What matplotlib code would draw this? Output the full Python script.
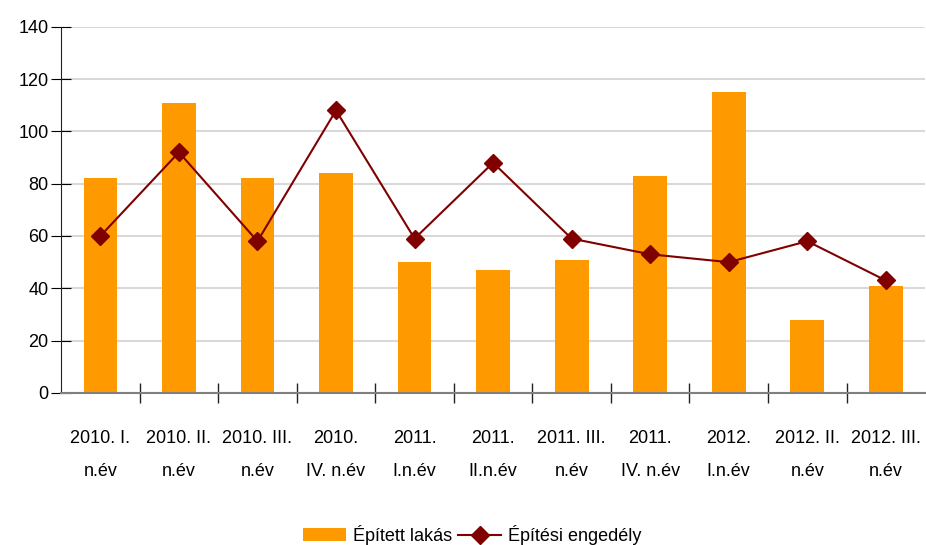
import numpy as np
import matplotlib.pyplot as plt
from matplotlib import font_manager

names = {f.name for f in font_manager.fontManager.ttflist}
if "Liberation Sans Narrow" in names:
    plt.rcParams['font.family'] = ['Liberation Sans Narrow', 'DejaVu Sans']
else:
    plt.rcParams['font.family'] = ['Liberation Sans', 'DejaVu Sans']

labels = ["2010. I.\nn.év", "2010. II.\nn.év", "2010. III.\nn.év", "2010.\nIV. n.év",
          "2011.\nI.n.év", "2011.\nII.n.év", "2011. III.\nn.év", "2011.\nIV. n.év",
          "2012.\nI.n.év", "2012. II.\nn.év", "2012. III.\nn.év"]
epitett = [82, 111, 82, 84, 50, 47, 51, 83, 115, 28, 41]
engedely = [60, 92, 58, 108, 59, 88, 59, 53, 50, 58, 43]

fig = plt.figure(figsize=(9.26, 5.45), dpi=100)
ax = fig.add_axes([0.066, 0.279, 0.933, 0.672])

x = np.arange(len(labels))
bars = ax.bar(x, epitett, width=0.43, color='#FF9900', label='Épített lakás', zorder=2)
line, = ax.plot(x, engedely, color='#800000', lw=1.5, marker='D', ms=9,
                label='Építési engedély', zorder=3)

ax.set_ylim(0, 140)
ax.set_yticks(range(0, 141, 20))
ax.set_xlim(-0.5, len(labels) - 0.5)
ax.set_xticks(x)
ax.set_xticklabels(labels, fontsize=13, linespacing=2.2)
ax.set_xticks(np.arange(0.5, len(labels) - 1, 1), minor=True)
ax.tick_params(axis='x', which='major', length=0, pad=27)
ax.tick_params(axis='x', which='minor', direction='inout', length=14, width=1, color='#222222')
ax.tick_params(axis='y', direction='inout', length=14, labelsize=13, pad=2)

ax.grid(axis='y', color='#d9d9d9', lw=1.5, zorder=0)
for s in ['top', 'right']:
    ax.spines[s].set_visible(False)
ax.spines['left'].set_color('#222222')
ax.spines['bottom'].set_color('#808080')
ax.spines['bottom'].set_linewidth(1.5)

fig.legend(handles=[bars, line], loc='lower center', bbox_to_anchor=(0.51, -0.03), ncol=2,
           frameon=False, fontsize=13, handlelength=2.4, handletextpad=0.4, columnspacing=0.3)

fig.savefig('out.png', dpi=100)
